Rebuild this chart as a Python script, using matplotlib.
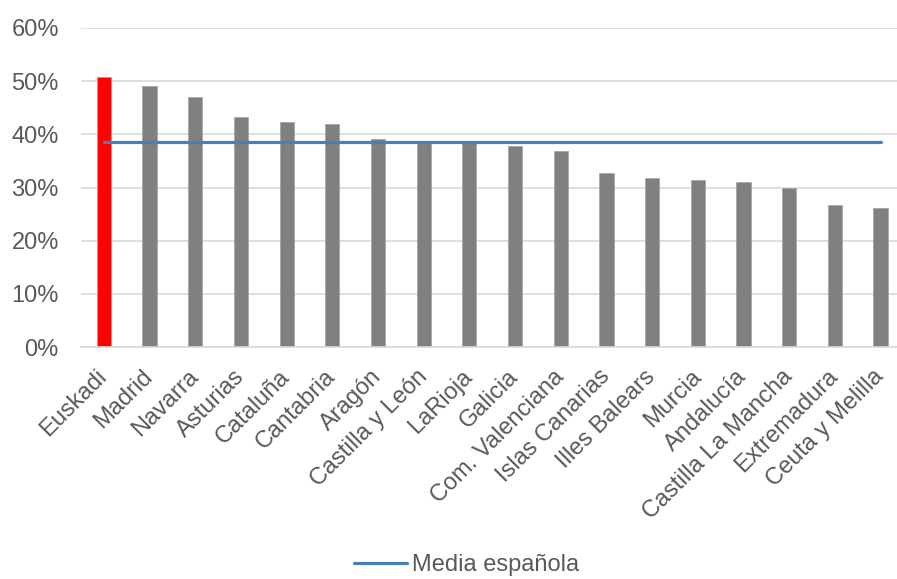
import numpy as np
import matplotlib
matplotlib.use("Agg")
import matplotlib.pyplot as plt
from matplotlib.ticker import PercentFormatter

# --- DATI ---
regiones = ["Euskadi", "Madrid", "Navarra", "Asturias", "Cataluña", "Cantabria",
            "Aragón", "Castilla y León", "LaRioja", "Galicia", "Com. Valenciana",
            "Islas Canarias", "Illes Balears", "Murcia", "Andalucía",
            "Castilla La Mancha", "Extremadura", "Ceuta y Melilla"]
valores = [50.7, 49.0, 47.0, 43.2, 42.3, 41.9, 39.2, 38.7, 38.6, 37.8, 36.8,
           32.7, 31.8, 31.4, 31.1, 29.9, 26.7, 26.2]
media_espanola = 38.5

# --- STILE ---
plt.rcParams['font.family'] = ['Liberation Sans', 'DejaVu Sans']
COLOR_TEXTO = '#595959'
COLOR_GRID = '#d9d9d9'
FS = 17

W, H = 897, 579
fig = plt.figure(figsize=(W / 100, H / 100), dpi=100)
ax = fig.add_axes([81 / W, 1 - 347 / H, (897 - 81) / W, (347 - 28) / H])

x = np.arange(len(regiones))
colores = ['#ff0000'] + ['#808080'] * (len(regiones) - 1)
ax.bar(x, valores, width=0.31, color=colores, edgecolor='#a6a6a6', linewidth=0.6, zorder=2)

ax.plot([x[0], x[-1]], [media_espanola, media_espanola], color='#4a7ebb',
        linewidth=2.3, solid_capstyle='round', label='Media española', zorder=3)

ax.set_xlim(-0.5, 17.36)
ax.set_ylim(0, 60)
ax.yaxis.set_major_formatter(PercentFormatter(decimals=0))
ax.set_yticks(np.arange(0, 61, 10))
ax.grid(axis='y', color=COLOR_GRID, linewidth=1.2, zorder=0)
ax.set_axisbelow(True)

for s in ['top', 'right', 'left']:
    ax.spines[s].set_visible(False)
ax.spines['bottom'].set_color(COLOR_GRID)
ax.spines['bottom'].set_linewidth(1.2)

ax.tick_params(axis='both', length=0, labelsize=FS, labelcolor=COLOR_TEXTO)
ax.tick_params(axis='y', pad=16)
ax.tick_params(axis='x', pad=19)
ax.set_xticks(x)
ax.set_xticklabels(regiones, rotation=45, ha='right', va='center', rotation_mode='anchor')

fig.legend(loc='lower center', bbox_to_anchor=(0.52, -0.032), frameon=False,
           fontsize=FS, handlelength=2.25, handletextpad=0.2, labelcolor=COLOR_TEXTO)

fig.savefig('out.png', dpi=100)
